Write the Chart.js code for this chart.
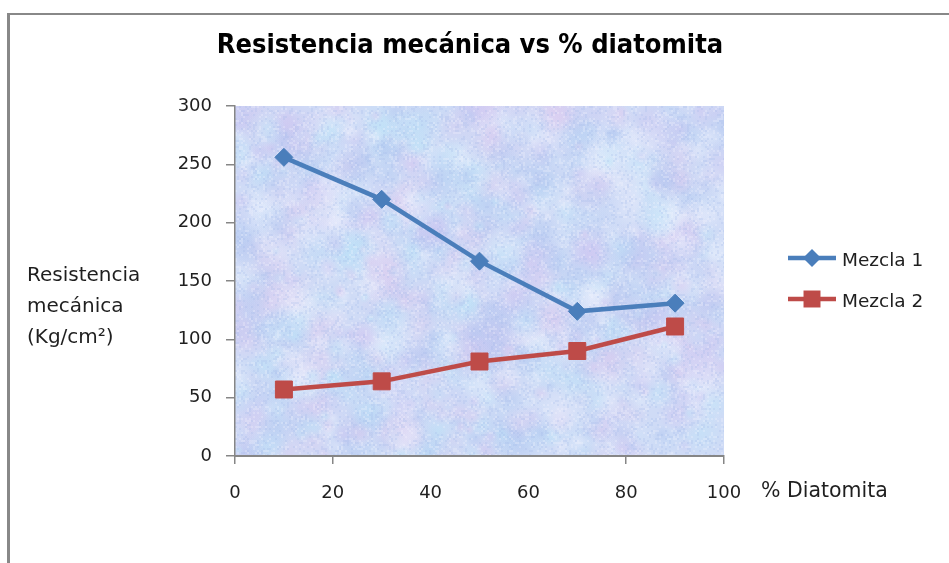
<!DOCTYPE html>
<html>
<head>
<meta charset="utf-8">
<script src="https://cdn.jsdelivr.net/npm/chart.js@4/dist/chart.umd.min.js"></script>
<style>
  html, body { margin: 0; padding: 0; background: #ffffff; }
  #wrap { width: 949px; height: 563px; position: relative; }
  canvas { display: block; }
</style>
</head>
<body>
<div id="wrap"><canvas id="chart" width="949" height="563"></canvas></div>
<script>
// % diatomita in the mix and mechanical strength of each mixture
const diatomita = [10, 30, 50, 70, 90];
const mezcla1 = [256, 220, 167, 124, 131];
const mezcla2 = [57, 64, 81, 90, 111];
const seriesNames = ['Mezcla 1', 'Mezcla 2'];
const seriesColors = ['#4a7ebb', '#be4b48'];
const xTickValues = [0, 20, 40, 60, 80, 100];
const yTickValues = [0, 50, 100, 150, 200, 250, 300];
const hiddenXTickMarks = [40, 60];
const titleText = 'Resistencia mecánica vs % diatomita';
const yTitleLines = ['Resistencia', 'mecánica', '(Kg/cm²)'];
const xTitleText = '% Diatomita';

const FONT = '"DejaVu Sans", Verdana, sans-serif';
const TEXT_COLOR = '#1f1f1f';
const AXIS_GREY = '#868686';

// deterministic hash used for the marbled plot-area fill
function hash(n) {
  const s = Math.sin(n * 127.1 + 311.7) * 43758.5453;
  return s - Math.floor(s);
}

function makeTexture(w, h) {
  const c = document.createElement('canvas');
  c.width = w; c.height = h;
  const g = c.getContext('2d');
  g.fillStyle = '#cfdbf6';
  g.fillRect(0, 0, w, h);
  const tints = [
    [190, 228, 248], [220, 204, 240], [178, 198, 240],
    [236, 240, 253], [196, 218, 246], [206, 200, 242]
  ];
  for (let i = 0; i < 1100; i++) {
    const x = hash(i * 3 + 1) * w;
    const y = hash(i * 3 + 2) * h;
    const r = 5 + hash(i * 3 + 3) * 24;
    const t = tints[i % tints.length];
    const gr = g.createRadialGradient(x, y, 0, x, y, r);
    gr.addColorStop(0, `rgba(${t[0]},${t[1]},${t[2]},0.5)`);
    gr.addColorStop(1, `rgba(${t[0]},${t[1]},${t[2]},0)`);
    g.fillStyle = gr;
    g.beginPath();
    g.arc(x, y, r, 0, Math.PI * 2);
    g.fill();
  }
  for (let y = 0; y < h; y += 2) {
    for (let x = 0; x < w; x += 2) {
      const v = hash(x * 0.371 + y * 1.913);
      if (v < 0.3) {
        g.fillStyle = v < 0.15 ? 'rgba(160,180,230,0.22)' : 'rgba(248,248,255,0.26)';
        g.fillRect(x, y, 2, 2);
      }
    }
  }
  return c;
}

const decorations = {
  id: 'decorations',
  beforeDraw(chart) {
    const { ctx, chartArea: a } = chart;
    ctx.save();
    // outer frame (top and left edges)
    ctx.fillStyle = '#888888';
    ctx.fillRect(7, 13, 3, 563 - 13);
    ctx.fillRect(7, 13, 949 - 7, 2);
    // plot-area fill
    const tex = makeTexture(Math.round(a.right - a.left), Math.round(a.bottom - a.top));
    ctx.drawImage(tex, a.left, a.top);
    ctx.restore();
  },
  afterDraw(chart) {
    const { ctx } = chart;
    ctx.save();
    // title
    ctx.fillStyle = '#000000';
    ctx.font = 'bold 27px "Liberation Sans Narrow", "DejaVu Sans Condensed", Arial, sans-serif';
    ctx.textAlign = 'center';
    ctx.textBaseline = 'alphabetic';
    ctx.fillText(titleText, 470, 53);
    // y-axis title, three horizontal lines
    ctx.fillStyle = TEXT_COLOR;
    ctx.font = '20px ' + FONT;
    ctx.textAlign = 'left';
    yTitleLines.forEach((line, i) => ctx.fillText(line, 27, 281 + i * 31));
    // x-axis title
    ctx.font = '20.5px ' + FONT;
    ctx.fillText(xTitleText, 761, 497);
    // legend
    const legendY = [258, 299];
    const styles = [
      { pointStyle: 'rectRot', radius: 9, rotation: 0 },
      { pointStyle: 'rect', radius: 12, rotation: 0 }
    ];
    seriesNames.forEach((name, i) => {
      const y = legendY[i];
      ctx.strokeStyle = seriesColors[i];
      ctx.lineWidth = 4.5;
      ctx.beginPath();
      ctx.moveTo(788, y);
      ctx.lineTo(836, y);
      ctx.stroke();
      ctx.fillStyle = seriesColors[i];
      ctx.lineWidth = 1;
      Chart.helpers.drawPoint(ctx, styles[i], 812, y);
      ctx.fillStyle = TEXT_COLOR;
      ctx.font = '18.5px ' + FONT;
      ctx.fillText(name, 842, y + 8);
    });
    ctx.restore();
  }
};

const toPoints = (ys) => diatomita.map((x, i) => ({ x, y: ys[i] }));

new Chart(document.getElementById('chart'), {
  type: 'line',
  data: {
    datasets: [
      {
        label: seriesNames[0],
        data: toPoints(mezcla1),
        borderColor: seriesColors[0],
        backgroundColor: seriesColors[0],
        borderWidth: 4.5,
        pointStyle: 'rectRot',
        pointRadius: 9,
        pointBorderWidth: 1,
        tension: 0
      },
      {
        label: seriesNames[1],
        data: toPoints(mezcla2),
        borderColor: seriesColors[1],
        backgroundColor: seriesColors[1],
        borderWidth: 4.5,
        pointStyle: 'rect',
        pointRadius: 12,
        pointBorderWidth: 1,
        tension: 0
      }
    ]
  },
  options: {
    responsive: false,
    devicePixelRatio: 1,
    animation: false,
    layout: { padding: { left: 155, right: 225, top: 106, bottom: 57 } },
    plugins: {
      legend: { display: false },
      title: { display: false },
      tooltip: { enabled: false }
    },
    scales: {
      x: {
        type: 'linear',
        min: 0,
        max: 100,
        afterFit: (s) => { s.height = 50; },
        afterBuildTicks: (s) => { s.ticks = xTickValues.map(v => ({ value: v })); },
        ticks: {
          padding: 19,
          color: TEXT_COLOR,
          font: { family: FONT, size: 18 }
        },
        grid: {
          drawOnChartArea: false,
          drawTicks: true,
          tickLength: 8,
          lineWidth: 1.5,
          color: (c) => (c.tick && hiddenXTickMarks.includes(c.tick.value)) ? 'rgba(0,0,0,0)' : AXIS_GREY
        },
        border: { display: true, color: AXIS_GREY, width: 2 }
      },
      y: {
        min: 0,
        max: 300,
        afterFit: (s) => { s.width = 80; },
        afterBuildTicks: (s) => { s.ticks = yTickValues.map(v => ({ value: v })); },
        ticks: {
          padding: 14,
          color: TEXT_COLOR,
          font: { family: FONT, size: 18 }
        },
        grid: {
          drawOnChartArea: false,
          drawTicks: true,
          tickLength: 9,
          lineWidth: 1.5,
          color: AXIS_GREY
        },
        border: { display: true, color: AXIS_GREY, width: 1.5 }
      }
    }
  },
  plugins: [decorations]
});
</script>
</body>
</html>
